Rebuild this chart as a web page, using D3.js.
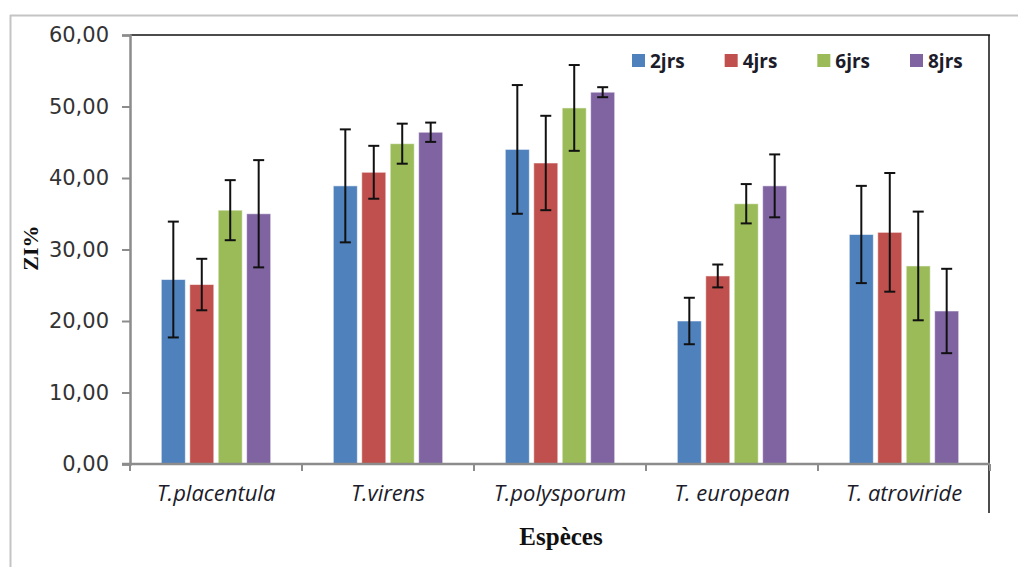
<!DOCTYPE html>
<html>
<head>
<meta charset="utf-8">
<script src="https://cdn.jsdelivr.net/npm/d3@7"></script>
<style>
  html, body { margin: 0; padding: 0; background: #fff; }
  svg { display: block; }
</style>
</head>
<body>
<svg id="chart" width="1018" height="567"></svg>
<script>
// Species and incubation periods
const categories = ["T.placentula", "T.virens", "T.polysporum", "T. european", "T. atroviride"];
const series = ["2jrs", "4jrs", "6jrs", "8jrs"];
const colors = ["#4F81BD", "#C0504D", "#9BBB59", "#8064A2"];

// Mean inhibition zone (ZI %) per period, one value per species
const mean2 = [25.8, 38.9, 44.0, 20.0, 32.1];
const mean4 = [25.1, 40.8, 42.1, 26.3, 32.4];
const mean6 = [35.5, 44.8, 49.8, 36.4, 27.7];
const mean8 = [35.0, 46.4, 52.0, 38.9, 21.4];

// Standard deviations
const err2 = [8.1, 7.9, 9.0, 3.25, 6.8];
const err4 = [3.6, 3.7, 6.6, 1.6, 8.3];
const err6 = [4.2, 2.8, 6.0, 2.75, 7.6];
const err8 = [7.5, 1.35, 0.7, 4.4, 5.9];

const yTicks = [0, 10, 20, 30, 40, 50, 60];

const means = [mean2, mean4, mean6, mean8];
const errs = [err2, err4, err6, err8];

const rows = [];
categories.forEach((c, ci) => {
  series.forEach((s, si) => {
    rows.push({ cat: c, ser: s, si, v: means[si][ci], e: errs[si][ci] });
  });
});

const svg = d3.select("#chart");
const plotLeft = 130, plotRight = 990, plotTop = 35, plotBottom = 464;

const x0 = d3.scaleBand().domain(categories).range([plotLeft, plotRight]).paddingInner(0).paddingOuter(0);
const x1 = d3.scaleBand().domain(series).range([0, x0.bandwidth()]).paddingInner(0.155).paddingOuter(1.1);
const y = d3.scaleLinear().domain([0, 60]).range([plotBottom, plotTop]);
const color = d3.scaleOrdinal().domain(series).range(colors);

// outer frame
svg.append("line").attr("x1", 10).attr("x2", 1018).attr("y1", 15.5).attr("y2", 15.5)
  .attr("stroke", "#c4c4c4").attr("stroke-width", 2);
svg.append("line").attr("x1", 10.5).attr("x2", 10.5).attr("y1", 15).attr("y2", 567)
  .attr("stroke", "#c4c4c4").attr("stroke-width", 2);

// plot area top and right edges
svg.append("line").attr("x1", plotLeft).attr("x2", plotRight).attr("y1", plotTop).attr("y2", plotTop)
  .attr("stroke", "#111").attr("stroke-width", 1.5);
svg.append("line").attr("x1", plotRight - 1).attr("x2", plotRight - 1).attr("y1", plotTop).attr("y2", 513)
  .attr("stroke", "#111").attr("stroke-width", 1.5);

// bars
const groups = svg.append("g").selectAll("g").data(rows).join("g");
groups.append("rect")
  .attr("x", d => x0(d.cat) + x1(d.ser))
  .attr("y", d => y(d.v))
  .attr("width", x1.bandwidth())
  .attr("height", d => y(0) - y(d.v))
  .attr("fill", d => color(d.ser))
  .attr("stroke", "rgba(255,255,255,0.55)")
  .attr("stroke-width", 1);

// error bars
const cap = 5.5;
groups.each(function (d) {
  const g = d3.select(this);
  const cx = x0(d.cat) + x1(d.ser) + x1.bandwidth() / 2;
  const yt = y(d.v + d.e), yb = y(d.v - d.e);
  g.append("line").attr("x1", cx).attr("x2", cx).attr("y1", yt).attr("y2", yb)
    .attr("stroke", "#111").attr("stroke-width", 2);
  g.append("line").attr("x1", cx - cap).attr("x2", cx + cap).attr("y1", yt).attr("y2", yt)
    .attr("stroke", "#111").attr("stroke-width", 2);
  g.append("line").attr("x1", cx - cap).attr("x2", cx + cap).attr("y1", yb).attr("y2", yb)
    .attr("stroke", "#111").attr("stroke-width", 2);
});

// y axis
const yAxis = svg.append("g").attr("transform", `translate(${plotLeft},0)`)
  .call(d3.axisLeft(y).tickValues(yTicks).tickSize(8).tickPadding(13)
    .tickFormat(d => d3.format(".2f")(d).replace(".", ",")));
yAxis.select(".domain").attr("stroke", "#8c8c8c").attr("stroke-width", 2.5);
yAxis.selectAll(".tick line").attr("stroke", "#8c8c8c").attr("stroke-width", 2);
yAxis.selectAll(".tick text").attr("font-family", "DejaVu Sans, Verdana, sans-serif")
  .attr("font-size", 21).attr("fill", "#333");

// x axis with ticks between categories
const xAxis = svg.append("g").attr("transform", `translate(0,${plotBottom})`);
xAxis.append("line").attr("x1", plotLeft - 8).attr("x2", plotRight).attr("y1", 0).attr("y2", 0)
  .attr("stroke", "#8c8c8c").attr("stroke-width", 2.5);
const boundaries = categories.map(c => x0(c)).concat([plotRight]);
xAxis.selectAll("line.tk").data(boundaries).join("line").attr("class", "tk")
  .attr("x1", d => d).attr("x2", d => d).attr("y1", 0).attr("y2", 7)
  .attr("stroke", "#8c8c8c").attr("stroke-width", 2);
xAxis.selectAll("text").data(categories).join("text")
  .attr("x", d => x0(d) + x0.bandwidth() / 2)
  .attr("y", 37)
  .attr("text-anchor", "middle")
  .attr("font-family", "Open Sans, Liberation Sans, sans-serif")
  .attr("font-style", "italic")
  .attr("font-size", 22)
  .attr("fill", "#1c1c2a")
  .text(d => d);

// axis titles
svg.append("text")
  .attr("transform", "translate(38,248) rotate(-90)")
  .attr("text-anchor", "middle")
  .attr("font-family", "Liberation Serif, Times New Roman, serif")
  .attr("font-weight", "bold")
  .attr("font-size", 22)
  .attr("fill", "#111")
  .text("ZI%");

svg.append("text")
  .attr("x", 561).attr("y", 545)
  .attr("text-anchor", "middle")
  .attr("font-family", "Liberation Serif, Times New Roman, serif")
  .attr("font-weight", "bold")
  .attr("font-size", 25)
  .attr("fill", "#111")
  .text("Espèces");

// legend
const legend = svg.append("g").attr("transform", "translate(632,54)");
const lx = d3.scalePoint().domain(series).range([0, 278]);
const li = legend.selectAll("g").data(series).join("g")
  .attr("transform", d => `translate(${lx(d)},0)`);
li.append("rect").attr("width", 13).attr("height", 13).attr("fill", d => color(d));
li.append("text").attr("x", 18).attr("y", 14)
  .attr("font-family", "Open Sans, Liberation Sans, sans-serif")
  .attr("font-weight", 700)
  .attr("font-size", 19)
  .attr("fill", "#1c1c2a")
  .text(d => d);
</script>
</body>
</html>
